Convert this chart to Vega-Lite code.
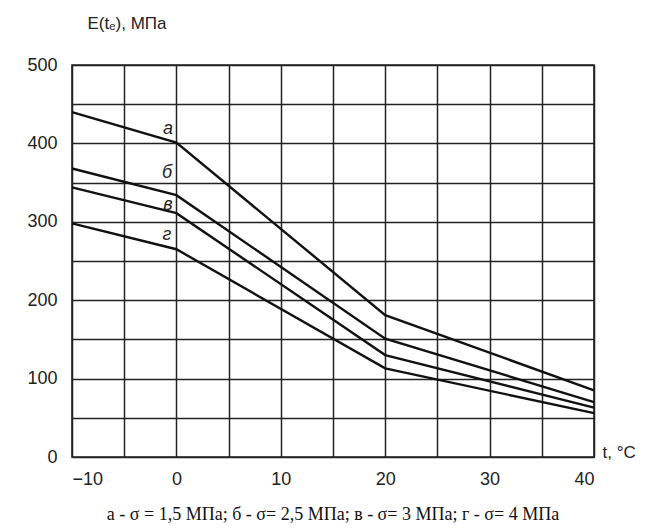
{
  "$schema": "https://vega.github.io/schema/vega-lite/v6.json",
  "width": 522,
  "height": 392,
  "autosize": {"type": "none"},
  "padding": {"left": 72, "top": 65, "right": 54, "bottom": 74},
  "background": "white",
  "title": {
    "text": "а - σ = 1,5 МПа; б - σ= 2,5 МПа; в - σ= 3 МПа; г -  σ= 4  МПа",
    "orient": "bottom",
    "anchor": "middle",
    "font": "Liberation Serif",
    "fontSize": 18,
    "fontWeight": "normal",
    "color": "#111",
    "offset": 18
  },
  "datasets": {
    "curves": [
      {"curve": "а", "t": -10, "E": 440},
      {"curve": "а", "t": 0, "E": 401},
      {"curve": "а", "t": 20, "E": 181},
      {"curve": "а", "t": 40, "E": 85},
      {"curve": "б", "t": -10, "E": 368},
      {"curve": "б", "t": 0, "E": 334},
      {"curve": "б", "t": 20, "E": 151},
      {"curve": "б", "t": 40, "E": 70},
      {"curve": "в", "t": -10, "E": 344},
      {"curve": "в", "t": 0, "E": 311},
      {"curve": "в", "t": 20, "E": 130},
      {"curve": "в", "t": 40, "E": 63},
      {"curve": "г", "t": -10, "E": 298},
      {"curve": "г", "t": 0, "E": 265},
      {"curve": "г", "t": 20, "E": 113},
      {"curve": "г", "t": 40, "E": 56}
    ],
    "labels": [
      {"label": "а", "t": -0.8, "E": 419},
      {"label": "б", "t": -0.9, "E": 362},
      {"label": "в", "t": -0.8, "E": 321},
      {"label": "г", "t": -0.9, "E": 283}
    ]
  },
  "encoding": {
    "x": {
      "field": "t",
      "type": "quantitative",
      "scale": {"domain": [-10, 40], "nice": false, "zero": false},
      "axis": {
        "values": [-10, -5, 0, 5, 10, 15, 20, 25, 30, 35, 40],
        "labelExpr": "datum.value % 10 === 0 ? datum.label : ''",
        "title": "t, °C",
        "titleX": 530,
        "titleY": -5,
        "titleAlign": "left",
        "titleBaseline": "middle",
        "labelPadding": 13
      }
    },
    "y": {
      "field": "E",
      "type": "quantitative",
      "scale": {"domain": [0, 500], "nice": false},
      "axis": {
        "values": [0, 50, 100, 150, 200, 250, 300, 350, 400, 450, 500],
        "labelExpr": "datum.value % 100 === 0 ? datum.label : ''",
        "title": "E(tₑ), МПа",
        "titleAngle": 0,
        "titleX": 15,
        "titleY": -37,
        "titleAlign": "left",
        "titleBaseline": "alphabetic",
        "labelPadding": 15
      }
    }
  },
  "layer": [
    {
      "data": {"name": "curves"},
      "mark": {"type": "line", "color": "#111", "strokeWidth": 2.4},
      "encoding": {"detail": {"field": "curve"}}
    },
    {
      "data": {"name": "labels"},
      "mark": {
        "type": "text",
        "font": "Liberation Sans",
        "fontSize": 18,
        "fontStyle": "italic",
        "color": "#222",
        "align": "center",
        "baseline": "middle"
      },
      "encoding": {"text": {"field": "label"}}
    }
  ],
  "config": {
    "view": {"stroke": "#222", "strokeWidth": 1.6},
    "axis": {
      "domain": false,
      "ticks": false,
      "grid": true,
      "gridColor": "#222",
      "gridWidth": 1.5,
      "gridOpacity": 1,
      "labelFont": "Liberation Sans",
      "labelFontSize": 18,
      "labelColor": "#222",
      "titleFont": "Liberation Sans",
      "titleFontSize": 17,
      "titleFontWeight": "normal",
      "titleColor": "#222"
    }
  }
}
